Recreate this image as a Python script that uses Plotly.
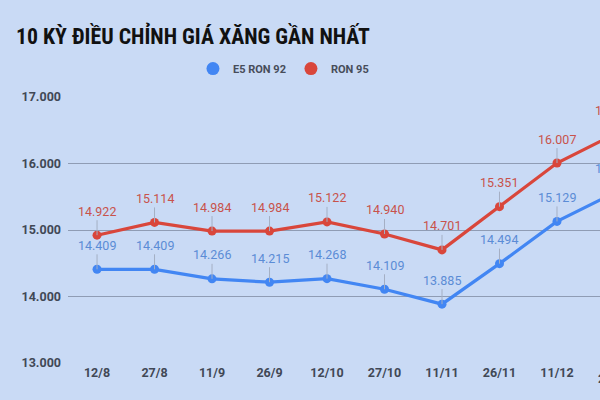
import plotly.graph_objects as go

dates = ["12/8", "27/8", "11/9", "26/9", "12/10", "27/10", "11/11", "26/11", "11/12", "26/12"]
e5_ron92 = [14409, 14409, 14266, 14215, 14268, 14109, 13885, 14494, 15129, 15559]
ron95 = [14922, 15114, 14984, 14984, 15122, 14940, 14701, 15351, 16007, 16439]
y_ticks = [13000, 14000, 15000, 16000, 17000]

BG = "#c9daf5"
BLUE = "#4286f3"
RED = "#d9463b"
BLUE_TXT = "#5b8cd6"
RED_TXT = "#c8524b"
TICK = "#414855"

xs = list(range(len(dates)))
X_RANGE = [-0.505, 8.748]


def fmt(v):
    return f"{v:,}".replace(",", ".")


def to_paper(x):
    return (x - X_RANGE[0]) / (X_RANGE[1] - X_RANGE[0])


fig = go.Figure()
fig.add_trace(go.Scatter(x=xs, y=e5_ron92, mode="lines+markers", name="E5 RON 92",
                         line=dict(color=BLUE, width=3.2), marker=dict(size=9, color=BLUE),
                         showlegend=False))
fig.add_trace(go.Scatter(x=xs, y=ron95, mode="lines+markers", name="RON 95",
                         line=dict(color=RED, width=3.2), marker=dict(size=9, color=RED),
                         showlegend=False))
# legend-only dots
fig.add_trace(go.Scatter(x=[None], y=[None], mode="markers", name="E5 RON 92",
                         marker=dict(size=13, color=BLUE)))
fig.add_trace(go.Scatter(x=[None], y=[None], mode="markers", name="RON 95",
                         marker=dict(size=13, color=RED)))

annotations = []
for series, col in ((e5_ron92, BLUE_TXT), (ron95, RED_TXT)):
    for x, v in zip(xs, series):
        inside = X_RANGE[0] <= x <= X_RANGE[1]
        ann = dict(x=to_paper(x), y=v, xref="paper", yref="y", text=fmt(v),
                   xanchor="center", yanchor="middle",
                   font=dict(family="Roboto", size=12.5, color=col))
        if inside:
            ann.update(showarrow=True, arrowhead=0, arrowwidth=1,
                       arrowcolor="#a4afc4", ax=0, ay=-24, standoff=0)
        else:
            ann.update(showarrow=False, yshift=24)
        annotations.append(ann)
annotations.append(dict(x=to_paper(xs[-1]), y=0, xref="paper", yref="paper",
                        xanchor="center", yanchor="top",
                        yshift=-6, text=dates[-1], showarrow=False,
                        font=dict(family="Roboto", size=12.5, color=TICK, weight="bold")))

fig.update_layout(
    width=600, height=400,
    paper_bgcolor=BG, plot_bgcolor=BG,
    margin=dict(l=68, r=0, t=97, b=37),
    separators=",.",
    title=dict(text="<b>10 KỲ ĐIỀU CHỈNH GIÁ XĂNG GẦN NHẤT</b>",
               x=16 / 600, xanchor="left", y=1 - 36 / 400, yanchor="middle",
               font=dict(family="Liberation Sans Narrow, Roboto Condensed, Roboto", size=21.8, color="#111111")),
    legend=dict(orientation="h", x=0.405, xanchor="center", y=1.107, yanchor="middle",
                font=dict(family="Roboto", size=11, color="#474d5a", weight="bold"),
                itemsizing="trace", bgcolor="rgba(0,0,0,0)"),
    xaxis=dict(range=X_RANGE, tickmode="array", tickvals=xs, ticktext=dates,
               showgrid=False, zeroline=False, showline=False, ticks="",
               tickfont=dict(family="Roboto", size=12.5, color=TICK, weight="bold")),
    yaxis=dict(range=[13000, 17000], tickvals=y_ticks, tickformat=",.0f",
               showgrid=True, gridcolor="#8f9cb4", gridwidth=1, zeroline=False,
               showline=False, ticks="", ticklabelstandoff=6,
               tickfont=dict(family="Roboto", size=12.5, color=TICK, weight="bold")),
    annotations=annotations,
)

fig.write_html("out.html", config={"displayModeBar": False},
               post_script="document.body.style.margin='0';document.body.style.overflow='hidden';")
